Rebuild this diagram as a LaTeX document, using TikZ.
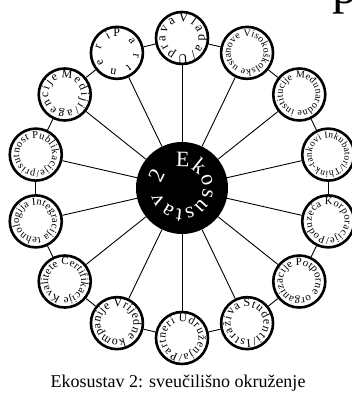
\documentclass[tikz,border=0pt]{standalone}
\usepackage{fontspec}
\setmainfont{Liberation Serif}
\usetikzlibrary{decorations.text}

% text set round the inside of a ring node: node, font size, text
\newcommand{\ringtext}[3]{%
  \path[decorate, decoration={text along path, text align=fit to path,
      text={|\fontsize{#2}{#2}\selectfont|#3}}]
    (#1.center) ++(102:16.5) arc[start angle=102, delta angle=-350, radius=16.5];}

\begin{document}
\begin{tikzpicture}[x=1pt, y=1pt]
  \tikzset{
    member/.style={draw=black, line width=2.6pt, circle, minimum size=52pt,
      inner sep=0pt, fill=white},
    hubnode/.style={circle, fill=black, minimum size=92pt, inner sep=0pt},
    link/.style={draw=black, line width=0.9pt},
  }
  \useasboundingbox (-182,-213) rectangle (169,188);

  \node[hubnode] (hub) at (0,0) {};

  \node[member] (vlada)    at (90:150)      {};
  \node[member] (visoko)   at (64.29:150)   {};
  \node[member] (medjunar) at (38.57:150)   {};
  \node[member] (inkub)    at (12.86:150)   {};
  \node[member] (korpor)   at (-12.86:150)  {};
  \node[member] (potpor)   at (-38.57:150)  {};
  \node[member] (student)  at (-64.29:150)  {};
  \node[member] (udruz)    at (-90:150)     {};
  \node[member] (kompan)   at (-115.71:150) {};
  \node[member] (certif)   at (-141.43:150) {};
  \node[member] (integr)   at (-167.14:150) {};
  \node[member] (publik)   at (167.14:150)  {};
  \node[member] (mediji)   at (141.43:150)  {};
  \node[member] (partneri) at (115.71:150)  {};

  % spokes and outer ring
  \foreach \n in {vlada, visoko, medjunar, inkub, korpor, potpor, student,
      udruz, kompan, certif, integr, publik, mediji, partneri}
    \draw[link] (hub) -- (\n);
  \foreach \a/\b in {vlada/visoko, visoko/medjunar, medjunar/inkub,
      inkub/korpor, korpor/potpor, potpor/student, student/udruz,
      udruz/kompan, kompan/certif, certif/integr, integr/publik,
      publik/mediji, mediji/partneri, partneri/vlada}
    \draw[link] (\a) -- (\b);

  \ringtext{vlada}{13}{Vlada/Uprava}
  \ringtext{visoko}{10}{Visokoškolske ustanove}
  \ringtext{medjunar}{10}{Međunarodne institucije}
  \ringtext{inkub}{9.5}{Inkubatori/Think-tankovi}
  \ringtext{korpor}{10.5}{Korporacije/Poduzeća}
  \ringtext{potpor}{11}{Potporne organizacije}
  \ringtext{student}{12}{Studenti/Istraživa}
  \ringtext{udruz}{11.5}{Udruženja/Partneri}
  \ringtext{kompan}{12}{Vrijedne kompanije}
  \ringtext{certif}{11}{Certifikacije Kvalitete}
  \ringtext{integr}{10.5}{Integracija tehnologija}
  \ringtext{publik}{10.5}{Publikacije/prisutnost}
  \ringtext{mediji}{12}{Mediji/agencije}
  \ringtext{partneri}{12}{Partneri}

  \path[decorate, decoration={text along path, text align=fit to path,
      text color=white, text={|\fontsize{22}{22}\selectfont|Ekosustav 2}}]
    (hub.center) ++(107:21) arc[start angle=107, delta angle=-328, radius=21];

  \node[font=\fontsize{18}{18}\selectfont] (caption) at (-4,-195)
    {Ekosustav 2: sveučilišno okruženje};
  \node[font=\fontsize{50}{50}\selectfont, anchor=base west, inner sep=0pt]
    (head) at (150,184) {p};
\end{tikzpicture}
\end{document}
